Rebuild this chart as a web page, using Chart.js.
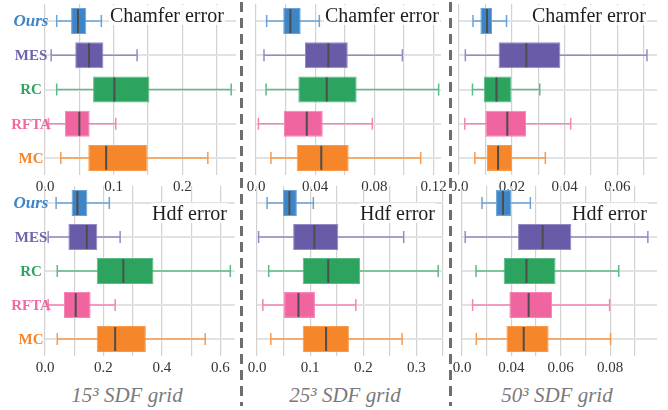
<!DOCTYPE html>
<html><head><meta charset="utf-8">
<script src="https://cdn.jsdelivr.net/npm/chart.js@4/dist/chart.umd.min.js"></script>
<style>
body{margin:0;background:#fff;width:668px;height:410px;overflow:hidden;position:relative;font-family:"Liberation Serif",serif;}
canvas{position:absolute;}
.sep{position:absolute;top:2px;width:3px;height:404px;background:repeating-linear-gradient(to bottom,#6e6e6e 0 10px,transparent 10px 16px);}
.ttl{position:absolute;font-size:20px;color:#1e1e1e;background:rgba(255,255,255,0.85);line-height:20px;padding:0 1px;white-space:nowrap;}
.cap{position:absolute;font-size:21px;font-style:italic;color:#7a7a7a;transform:translateX(-50%);white-space:nowrap;line-height:24px;}
</style></head>
<body>
<canvas id="c1"></canvas><canvas id="c2"></canvas><canvas id="c3"></canvas>
<canvas id="c4"></canvas><canvas id="c5"></canvas><canvas id="c6"></canvas>
<div class="sep" style="left:240px"></div>
<div class="sep" style="left:449px"></div>
<div class="ttl" style="left:109px;top:5px">Chamfer error</div>
<div class="ttl" style="left:324px;top:5px">Chamfer error</div>
<div class="ttl" style="left:531px;top:5px">Chamfer error</div>
<div class="ttl" style="left:151px;top:203px">Hdf error</div>
<div class="ttl" style="left:359px;top:203px">Hdf error</div>
<div class="ttl" style="left:571px;top:203px">Hdf error</div>
<div class="cap" style="left:127px;top:383px">15³ SDF grid</div>
<div class="cap" style="left:345px;top:383px">25³ SDF grid</div>
<div class="cap" style="left:557px;top:383px">50³ SDF grid</div>
<script>
// ---- data: per method [min, q1, median, q3, max] ----
const methods = ['Ours', 'MES', 'RC', 'RFTA', 'MC'];

const chamfer15 = [
  [0.017, 0.038, 0.048, 0.060, 0.082],
  [0.009, 0.044, 0.064, 0.085, 0.134],
  [0.017, 0.070, 0.101, 0.152, 0.271],
  [0.005, 0.029, 0.050, 0.065, 0.103],
  [0.023, 0.063, 0.089, 0.149, 0.237]
];
const chamfer25 = [
  [0.0072, 0.0184, 0.0232, 0.0302, 0.0428],
  [0.0054, 0.0331, 0.0489, 0.0620, 0.0989],
  [0.0068, 0.0286, 0.0478, 0.0680, 0.1234],
  [0.0016, 0.0189, 0.0343, 0.0451, 0.0786],
  [0.0101, 0.0275, 0.0441, 0.0626, 0.1113]
];
const chamfer50 = [
  [0.0053, 0.0081, 0.0106, 0.0125, 0.0180],
  [0.0024, 0.0150, 0.0255, 0.0384, 0.0712],
  [0.0051, 0.0094, 0.0142, 0.0198, 0.0306],
  [0.0022, 0.0100, 0.0183, 0.0254, 0.0423],
  [0.0060, 0.0106, 0.0148, 0.0201, 0.0327]
];
const hdf15 = [
  [0.038, 0.091, 0.111, 0.145, 0.220],
  [0.011, 0.080, 0.143, 0.179, 0.257],
  [0.042, 0.177, 0.268, 0.371, 0.634],
  [0.011, 0.065, 0.105, 0.156, 0.240],
  [0.042, 0.177, 0.240, 0.345, 0.548]
];
const hdf25 = [
  [0.019, 0.049, 0.061, 0.075, 0.106],
  [0.003, 0.068, 0.108, 0.153, 0.276],
  [0.022, 0.086, 0.134, 0.194, 0.341],
  [0.011, 0.051, 0.078, 0.109, 0.186],
  [0.026, 0.086, 0.130, 0.173, 0.273]
];
const hdf50 = [
  [0.0281, 0.0338, 0.0366, 0.0399, 0.0477],
  [0.0213, 0.0427, 0.0527, 0.0643, 0.0953],
  [0.0257, 0.0369, 0.0461, 0.0579, 0.0835],
  [0.0243, 0.0392, 0.0470, 0.0565, 0.0798],
  [0.0258, 0.0380, 0.0450, 0.0551, 0.0802]
];

// tick values carrying a label, and their texts
const chamfer15TickVals = [0, 0.1, 0.2];        const chamfer15TickText = ['0.0', '0.1', '0.2'];
const chamfer25TickVals = [0, 0.04, 0.08, 0.12]; const chamfer25TickText = ['0.0', '0.04', '0.08', '0.12'];
const chamfer50TickVals = [0, 0.02, 0.04, 0.06]; const chamfer50TickText = ['0.0', '0.02', '0.04', '0.06'];
const hdf15TickVals = [0, 0.2, 0.4, 0.6];        const hdf15TickText = ['0.0', '0.2', '0.4', '0.6'];
const hdf25TickVals = [0, 0.1, 0.2, 0.3];        const hdf25TickText = ['0.0', '0.1', '0.2', '0.3'];
const hdf50TickVals = [0.02, 0.04, 0.06, 0.08];  const hdf50TickText = ['0.0', '0.04', '0.06', '0.08'];

// ---- styles ----
const boxColors     = ['#3d85c6', '#6a5ba8', '#2ca35f', '#f0649f', '#f5862a'];
const whiskerColors = ['#6aa2d6', '#948ac6', '#5cba84', '#f485b5', '#f79a4e'];
const labelColors   = ['#3d85c6', '#7262b0', '#2ca35f', '#f06aa4', '#f5862a'];
const FONT = '"Liberation Serif", serif';

function boxPlugin(stats, showY) {
  return {
    id: 'boxwhisk',
    beforeDatasetsDraw(chart) {
      const xs = chart.scales.x, ys = chart.scales.y, ctx = chart.ctx;
      ctx.save();
      ctx.lineWidth = 1.5;
      stats.forEach((s, i) => {
        const y = ys.getPixelForValue(i);
        const x0 = xs.getPixelForValue(s[0]), x1 = xs.getPixelForValue(s[4]);
        ctx.strokeStyle = whiskerColors[i];
        ctx.beginPath();
        ctx.moveTo(x0, y); ctx.lineTo(x1, y);
        ctx.moveTo(x0, y - 6); ctx.lineTo(x0, y + 6);
        ctx.moveTo(x1, y - 6); ctx.lineTo(x1, y + 6);
        ctx.stroke();
      });
      ctx.restore();
    },
    afterDatasetsDraw(chart) {
      const xs = chart.scales.x, ys = chart.scales.y, ctx = chart.ctx;
      const meta = chart.getDatasetMeta(0);
      ctx.save();
      ctx.strokeStyle = '#4d4d4d';
      ctx.lineWidth = 2;
      stats.forEach((s, i) => {
        const el = meta.data[i];
        const x = xs.getPixelForValue(s[2]);
        const h = el.height / 2 - 1;
        ctx.beginPath();
        ctx.moveTo(x, el.y - h); ctx.lineTo(x, el.y + h);
        ctx.stroke();
      });
      if (showY) {
        ctx.textAlign = 'center';
        ctx.textBaseline = 'middle';
        methods.forEach((m, i) => {
          ctx.font = i === 0 ? 'italic bold 17px ' + FONT : 'bold 15px ' + FONT;
          ctx.fillStyle = labelColors[i];
          ctx.fillText(m, 31, ys.getPixelForValue(i) + 1);
        });
      }
      ctx.restore();
    }
  };
}

function makePanel(id, pos, stats, xr, tickVals, tickText, showY) {
  const cv = document.getElementById(id);
  cv.width = pos.w; cv.height = pos.h;
  cv.style.left = pos.l + 'px'; cv.style.top = pos.t + 'px';
  cv.style.width = pos.w + 'px'; cv.style.height = pos.h + 'px';
  new Chart(cv, {
    type: 'bar',
    data: {
      labels: methods,
      datasets: [{
        data: stats.map(s => [s[1], s[3]]),
        backgroundColor: boxColors,
        borderColor: whiskerColors,
        borderWidth: 1,
        borderSkipped: false,
        categoryPercentage: 1,
        barPercentage: 0.76
      }]
    },
    options: {
      indexAxis: 'y',
      responsive: false,
      animation: false,
      devicePixelRatio: 1,
      layout: { padding: { top: pos.pt, right: pos.pr, bottom: 0, left: 0 } },
      plugins: { legend: { display: false }, tooltip: { enabled: false } },
      scales: {
        x: {
          type: 'linear', min: xr.min, max: xr.max,
          border: { display: false },
          grid: { color: '#d2d2d2', lineWidth: 1.2, drawTicks: false },
          ticks: {
            stepSize: xr.step, includeBounds: false, autoSkip: false, maxRotation: 0,
            padding: 3, color: '#333', font: { family: FONT, size: 15 },
            callback: (v) => {
              const k = tickVals.findIndex(t => Math.abs(t - v) < 1e-9);
              return k >= 0 ? tickText[k] : '';
            }
          },
          afterFit: (s) => { s.height = pos.xh; s.paddingLeft = 0; s.paddingRight = 0; }
        },
        y: {
          type: 'category', offset: true,
          border: { display: false },
          grid: { offset: false, color: '#e2e2e2', lineWidth: 2, drawTicks: false },
          ticks: { display: false },
          afterFit: (s) => { s.width = pos.yw; }
        }
      }
    },
    plugins: [boxPlugin(stats, showY)]
  });
}

makePanel('c1', { l: 0,   t: 0,   w: 240, h: 195, yw: 45, pt: 4, pr: 4,  xh: 20 }, chamfer15, { min: 0, max: 0.278, step: 0.05 }, chamfer15TickVals, chamfer15TickText, true);
makePanel('c2', { l: 244, t: 0,   w: 204, h: 195, yw: 12, pt: 4, pr: 7,  xh: 20 }, chamfer25, { min: 0, max: 0.125, step: 0.02 }, chamfer25TickVals, chamfer25TickText, false);
makePanel('c3', { l: 452, t: 0,   w: 216, h: 195, yw: 7,  pt: 4, pr: 11, xh: 20 }, chamfer50, { min: 0, max: 0.075, step: 0.01 }, chamfer50TickVals, chamfer50TickText, false);
makePanel('c4', { l: 0,   t: 185, w: 240, h: 195, yw: 45, pt: 1, pr: 5,  xh: 24 }, hdf15, { min: 0, max: 0.65, step: 0.1 }, hdf15TickVals, hdf15TickText, true);
makePanel('c5', { l: 244, t: 185, w: 204, h: 195, yw: 13, pt: 1, pr: 5,  xh: 24 }, hdf25, { min: 0, max: 0.35, step: 0.05 }, hdf25TickVals, hdf25TickText, false);
makePanel('c6', { l: 452, t: 185, w: 216, h: 195, yw: 10, pt: 1, pr: 11, xh: 24 }, hdf50, { min: 0.02, max: 0.099, step: 0.01 }, hdf50TickVals, hdf50TickText, false);
</script>
</body></html>
